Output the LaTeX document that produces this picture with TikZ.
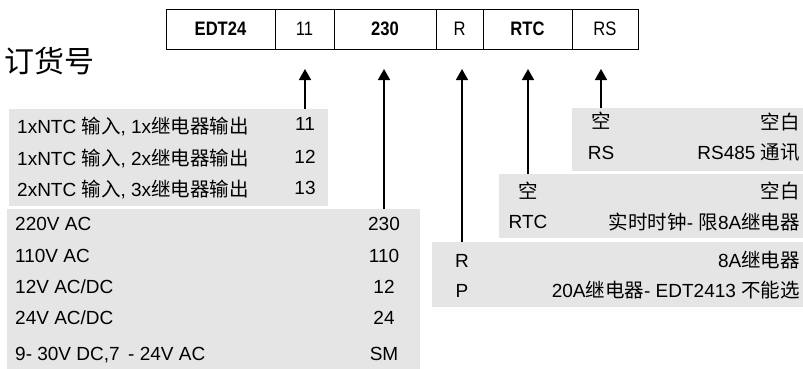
\documentclass[tikz,border=0pt]{standalone}
\usepackage{fontspec}
\setmainfont{Liberation Sans}
\newfontfamily\cjkfont{Noto Sans CJK SC}
\newcommand{\cjk}{\cjkfont\fontsize{19.5}{22}\selectfont}
\newfontfamily\codefont[FakeStretch=0.85]{Liberation Sans}
\usetikzlibrary{positioning,arrows.meta}

\begin{document}
\begin{tikzpicture}[x=1pt, y=-1pt, every node/.style={font=\fontsize{19}{22}\selectfont, inner sep=0pt}]
\tikzset{
  zelle/.style={draw, line width=1pt, minimum height=40pt, outer sep=0pt, font=\codefont\fontsize{19.5}{22}\selectfont},
  feld/.style={fill=black!10, minimum width=#1, anchor=north west},
  pfeil/.style={-{Triangle[width=12pt,length=11pt]}, line width=1.6pt},
  zh/.style={font=\cjk},
}
      \useasboundingbox (0,0) rectangle (803,368);

      \node[anchor=base west, font=\cjkfont\fontsize{30}{34}\selectfont] (titel) at (4,72) {订货号};

      \node[zelle, minimum width=109pt, anchor=north west] (cedt) at (166,9) {\bfseries EDT24};
      \node[zelle, minimum width=59pt, right=0pt of cedt] (cein) {11};
      \node[zelle, minimum width=102pt, right=0pt of cein] (cvolt) {\bfseries 230};
      \node[zelle, minimum width=47pt, right=0pt of cvolt] (crel) {R};
      \node[zelle, minimum width=89pt, right=0pt of crel] (crtc) {\bfseries RTC};
      \node[zelle, minimum width=66pt, right=0pt of crtc] (crs) {RS};

      \node[feld=319pt, minimum height=97pt] (ntc) at (9,109) {};
      \node[feld=413pt, minimum height=160pt] (vac) at (7,209) {};
      \node[feld=371pt, minimum height=65pt] (rel) at (432,242) {};
      \node[feld=304pt, minimum height=64pt] (rtc) at (499,174) {};
      \node[feld=231pt, minimum height=63pt] (rs) at (572,108) {};

      \node[anchor=base west] (ntca) at (17,133) {1xNTC {\cjk 输入}, 1x{\cjk 继电器输出}};
      \node[anchor=base west] (ntcb) at (17,165) {1xNTC {\cjk 输入}, 2x{\cjk 继电器输出}};
      \node[anchor=base west] (ntcc) at (17,196) {2xNTC {\cjk 输入}, 3x{\cjk 继电器输出}};
      \node[anchor=base] (n11) at (305,130) {11};
      \node[anchor=base] (n12) at (305,163) {12};
      \node[anchor=base] (n13) at (305,194) {13};

      \node[anchor=base west] (va) at (15,230) {220V AC};
      \node[anchor=base west] (vb) at (15,262) {110V AC};
      \node[anchor=base west] (vc) at (15,293) {12V AC/DC};
      \node[anchor=base west] (vd) at (15,324) {24V AC/DC};
      \node[anchor=base west] (ve) at (15,360) {9- 30V DC,7 \,- 24V AC};
      \node[anchor=base] (n230) at (384,230) {230};
      \node[anchor=base] (n110) at (384,262) {110};
      \node[anchor=base] (n12v) at (384,293) {12};
      \node[anchor=base] (n24v) at (384,324) {24};
      \node[anchor=base] (nsm) at (384,360) {SM};

      \node[anchor=base] (nr) at (462,267) {R};
      \node[anchor=base] (np) at (462,297) {P};
      \node[anchor=base east] (ra) at (800,267) {8A{\cjk 继电器}};
      \node[anchor=base east] (rb) at (800,297) {20A{\cjk 继电器}- EDT2413 {\cjk 不能选}};

      \node[anchor=base, zh] (nrtcleer) at (528,198) {空};
      \node[anchor=base] (nrtc) at (528,228) {RTC};
      \node[anchor=base east, zh] (rtca) at (800,198) {空白};
      \node[anchor=base east] (rtcb) at (800,229) {{\cjk 实时时钟}- {\cjk 限}8A{\cjk 继电器}};

      \node[anchor=base, zh] (nrsleer) at (601,128) {空};
      \node[anchor=base] (nrs) at (601,159) {RS};
      \node[anchor=base east, zh] (rsa) at (800,129) {空白};
      \node[anchor=base east] (rsb) at (800,159) {RS485 {\cjk 通讯}};

      \coordinate (spitze) at (0,69);
      \draw[pfeil] (n11 |- ntc.north) -- (n11 |- spitze);
      \draw[pfeil] (n230 |- vac.north) -- (n230 |- spitze);
      \draw[pfeil] (nr |- rel.north) -- (nr |- spitze);
      \draw[pfeil] (nrtc |- rtc.north) -- (nrtc |- spitze);
      \draw[pfeil] (nrs |- rs.north) -- (nrs |- spitze);
    \end{tikzpicture}
\end{document}
